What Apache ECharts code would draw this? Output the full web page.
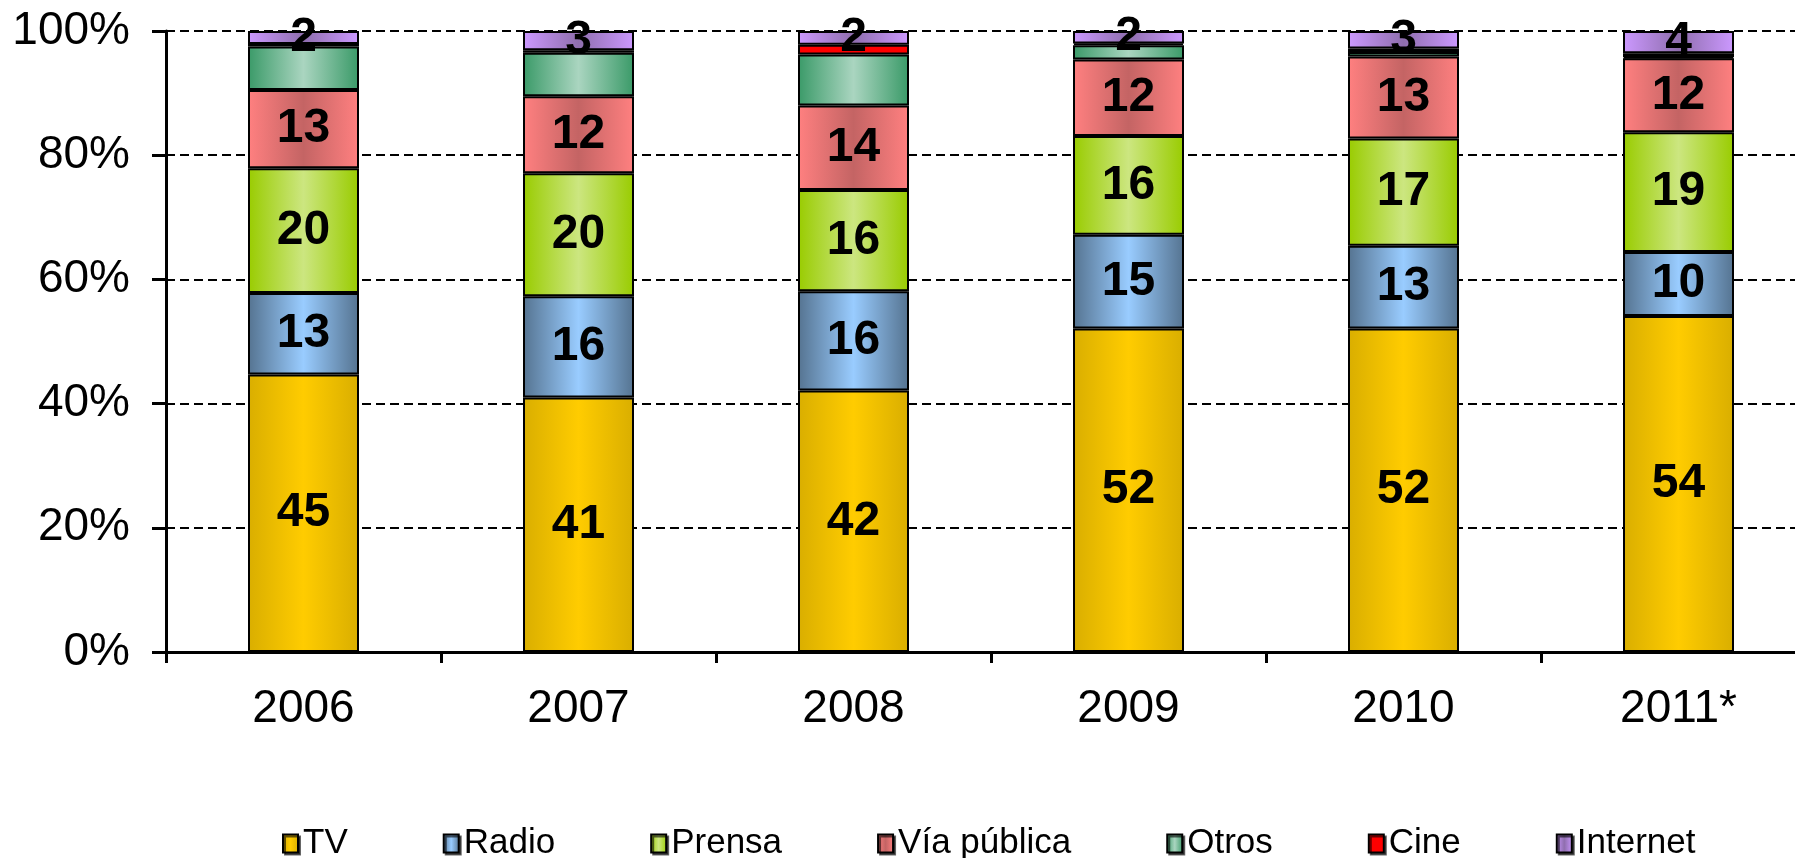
<!DOCTYPE html>
<html>
<head>
<meta charset="utf-8">
<script src="https://cdn.jsdelivr.net/npm/echarts@6/dist/echarts.min.js"></script>
<style>
html,body{margin:0;padding:0;background:#fff;overflow:hidden;width:1795px;height:858px;}
#chart{width:1818px;height:858px;}
</style>
</head>
<body>
<div id="chart"></div>
<script>
var categories = ['2006', '2007', '2008', '2009', '2010', '2011*'];
var tv       = [44.7, 41.0, 42.1, 52.1, 52.1, 54.1];
var radio    = [13.1, 16.3, 16.0, 15.1, 13.3, 10.3];
var prensa   = [20.1, 19.8, 16.3, 15.9, 17.3, 19.3];
var via      = [12.6, 12.4, 13.6, 12.3, 13.2, 11.9];
var otros    = [7.0, 7.0, 8.2, 2.3, 0.7, 0.2];
var cine     = [0.4, 0.4, 1.6, 0.3, 0.6, 0.6];
var internet = [2.1, 3.1, 2.2, 2.0, 2.8, 3.6];
var yTicks = [0, 20, 40, 60, 80, 100];

var FONT = '"Liberation Sans", Arial, sans-serif';

function grad(edge, center) {
  return new echarts.graphic.LinearGradient(0, 0, 1, 0, [
    {offset: 0, color: edge},
    {offset: 0.5, color: center},
    {offset: 1, color: edge}
  ]);
}

function mk(name, data, color, showLabel) {
  return {
    name: name,
    type: 'bar',
    stack: 'total',
    barWidth: 111,
    data: data,
    itemStyle: {color: color, borderColor: '#000', borderWidth: 2},
    label: {
      show: showLabel,
      position: 'inside',
      color: '#000',
      fontFamily: FONT,
      fontWeight: 'bold',
      fontSize: 48,
      formatter: function (p) { return Math.round(p.value); }
    },
    emphasis: {disabled: true}
  };
}

var chart = echarts.init(document.getElementById('chart'), null, {renderer: 'canvas'});
chart.setOption({
  animation: false,
  backgroundColor: '#fff',
  grid: {left: 166, top: 31, right: 2, height: 621, containLabel: false},
  legend: {
    left: 277,
    top: 821,
    itemWidth: 15,
    itemHeight: 18,
    itemGap: 95,
    itemStyle: {borderColor: '#000', borderWidth: 2, shadowColor: 'rgba(0,0,0,0.6)', shadowOffsetX: 2, shadowOffsetY: 2},
    textStyle: {fontFamily: FONT, fontSize: 35, color: '#000'},
    icon: 'rect',
    data: ['TV', 'Radio', 'Prensa', 'Vía pública', 'Otros', 'Cine', 'Internet']
  },
  xAxis: {
    type: 'category',
    data: categories,
    axisLine: {lineStyle: {color: '#000', width: 3}},
    axisTick: {show: true, alignWithLabel: false, length: 11, lineStyle: {color: '#000', width: 3}},
    axisLabel: {fontFamily: FONT, fontSize: 46, color: '#000', margin: 34},
    splitLine: {show: false}
  },
  yAxis: {
    type: 'value',
    min: yTicks[0],
    max: yTicks[yTicks.length - 1],
    interval: 20,
    axisLine: {show: true, lineStyle: {color: '#000', width: 3}},
    axisTick: {show: true, length: 14, lineStyle: {color: '#000', width: 3}},
    axisLabel: {fontFamily: FONT, fontSize: 46, color: '#000', margin: 36, formatter: '{value}%'},
    splitLine: {show: true, lineStyle: {color: '#000', width: 2, type: [9, 5]}}
  },
  series: [
    mk('TV', tv, grad('#D9AE00', '#FFCC00'), true),
    mk('Radio', radio, grad('#557390', '#99CCFF'), true),
    mk('Prensa', prensa, grad('#99CC00', '#CCE680'), true),
    mk('Vía pública', via, grad('#FF8080', '#C46464'), true),
    mk('Otros', otros, grad('#3A9A68', '#AAD5C0'), false),
    mk('Cine', cine, '#FF0000', false),
    mk('Internet', internet, grad('#CC99FF', '#8F6EAE'), true)
  ]
});
</script>
</body>
</html>
